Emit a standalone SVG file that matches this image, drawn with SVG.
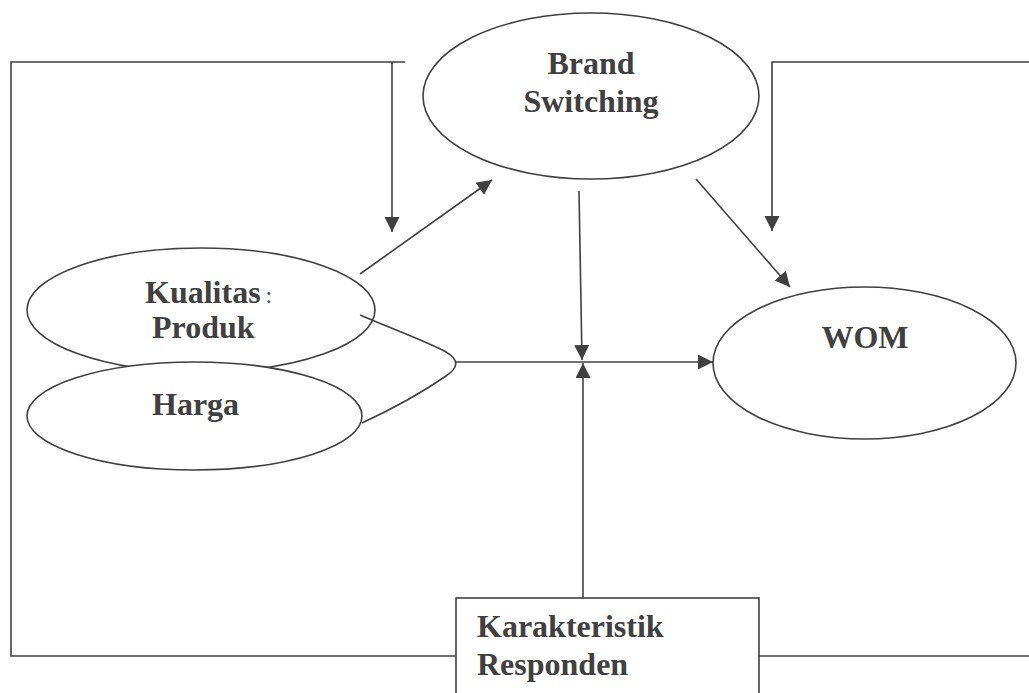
<svg xmlns="http://www.w3.org/2000/svg" width="1029" height="693" viewBox="0 0 1029 693">
<style>
.ln{fill:none;stroke:#404040;stroke-width:1.6}
.nd{fill:#fff;stroke:#404040;stroke-width:1.6}
.tx{font-family:"Liberation Serif","Times New Roman",serif;font-weight:bold;font-size:32px;fill:#404040}
</style>
<defs>
<marker id="ah" markerUnits="userSpaceOnUse" markerWidth="16" markerHeight="16" refX="15" refY="7.5" orient="auto">
<path d="M0,0 L15,7.5 L0,15 z" fill="#404040"/>
</marker>
</defs>
<rect width="1029" height="693" fill="#fff"/>
<g id="connectors">
<polyline class="ln" points="456,656 11,656 11,62 405,62"/>
<line class="ln" x1="392" y1="62" x2="392" y2="232" marker-end="url(#ah)"/>
<polyline class="ln" points="1029,62 772,62 772,231" marker-end="url(#ah)"/>
<line class="ln" x1="759" y1="656" x2="1029" y2="656"/>
<line class="ln" x1="360" y1="274" x2="492" y2="180" marker-end="url(#ah)"/>
<line class="ln" x1="696" y1="179" x2="790" y2="287" marker-end="url(#ah)"/>
<line class="ln" x1="579" y1="191" x2="582" y2="360" marker-end="url(#ah)"/>
<line class="ln" x1="583" y1="598" x2="583" y2="363" marker-end="url(#ah)"/>
<line class="ln" x1="456" y1="362" x2="713" y2="362" marker-end="url(#ah)"/>
</g>
<g id="brand-switching">
<ellipse class="nd" cx="591" cy="96" rx="168" ry="83"/>
<text class="tx" x="591" y="74" text-anchor="middle">Brand</text>
<text class="tx" x="591" y="112" text-anchor="middle">Switching</text>
</g>
<g id="kualitas-produk">
<ellipse class="nd" cx="201" cy="310" rx="174" ry="62"/>
<text class="tx" x="145" y="303">Kualitas<tspan font-weight="normal" font-size="24" dx="5">:</tspan></text>
<text class="tx" x="152" y="338">Produk</text>
</g>
<g id="harga">
<ellipse class="nd" cx="194.5" cy="416" rx="167.5" ry="54"/>
<text class="tx" x="152" y="415">Harga</text>
</g>
<g id="brace">
<path class="ln" d="M360,315 C395,330 430,343 446,352 C460,360 458,368 446,376 C420,394 390,410 362,423"/>
</g>
<g id="wom">
<ellipse class="nd" cx="864.5" cy="363" rx="151.5" ry="76"/>
<text class="tx" x="865" y="348" text-anchor="middle">WOM</text>
</g>
<g id="karakteristik-responden">
<rect class="nd" x="456" y="598" width="303" height="100"/>
<text class="tx" x="477" y="637">Karakteristik</text>
<text class="tx" x="477" y="675">Responden</text>
</g>
</svg>
